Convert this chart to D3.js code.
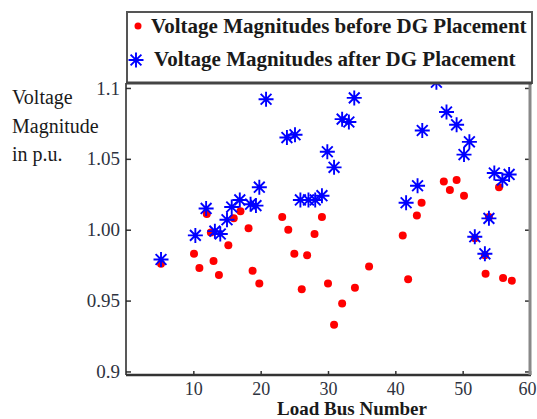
<!DOCTYPE html>
<html>
<head>
<meta charset="utf-8">
<script src="https://cdn.jsdelivr.net/npm/d3@7"></script>
<style>
  body { margin: 0; background: #fff; }
  text { font-family: "Liberation Serif", "Times New Roman", serif; }
</style>
</head>
<body>
<div id="graph"></div>
<script>
// Voltage magnitudes before DG placement (bus number, p.u.)
const busBefore = [5.2, 10.1, 10.9, 12.0, 12.6, 13.0, 13.8, 15.2, 16.0, 17.0,
    18.2, 18.8, 19.8, 23.2, 24.1, 25.0, 26.1, 26.9, 28.0, 29.1,
    30.0, 30.9, 32.1, 34.0, 36.1, 41.1, 41.9, 43.2, 43.9, 47.2,
    48.1, 49.1, 50.2, 51.8, 53.3, 53.4, 53.9, 55.4, 56.0, 57.3];
const voltBefore = [0.976, 0.983, 0.973, 1.011, 0.998, 0.978, 0.968, 0.989, 1.008, 1.013,
    1.001, 0.971, 0.962, 1.009, 1.000, 0.983, 0.958, 0.982, 0.997, 1.009,
    0.962, 0.933, 0.948, 0.959, 0.974, 0.996, 0.965, 1.010, 1.019, 1.034,
    1.028, 1.035, 1.024, 0.994, 0.982, 0.969, 1.009, 1.030, 0.966, 0.964];

// Voltage magnitudes after DG placement
const busAfter = [5.2, 10.3, 11.9, 13.2, 14.0, 15.0, 15.7, 16.9, 18.5, 19.3,
    19.8, 20.8, 23.9, 25.1, 25.9, 27.1, 28.1, 29.1, 29.9, 30.9,
    32.1, 33.1, 33.9, 41.6, 43.3, 44.0, 46.1, 47.6, 49.1, 50.2,
    51.0, 51.8, 53.3, 53.9, 54.7, 55.9, 56.9];
const voltAfter = [0.979, 0.996, 1.015, 0.999, 0.997, 1.007, 1.016, 1.021, 1.018, 1.017,
    1.030, 1.092, 1.065, 1.067, 1.021, 1.021, 1.021, 1.024, 1.055, 1.044,
    1.078, 1.076, 1.093, 1.019, 1.031, 1.070, 1.104, 1.083, 1.074, 1.053,
    1.062, 0.995, 0.983, 1.008, 1.040, 1.035, 1.039];

const xTicks = [10, 20, 30, 40, 50, 60];
const yTicks = [0.9, 0.95, 1.0, 1.05, 1.1];
const yTickLabels = ['0.9', '0.95', '1.00', '1.05', '1.1'];
const legendLabels = ['Voltage Magnitudes before DG Placement', 'Voltage Magnitudes after DG Placement'];
const yLabelLines = ['Voltage', 'Magnitude', 'in p.u.'];
const xLabel = 'Load Bus Number';

let width = 537,
    height = 419;
let plot = { left: 126, top: 83, right: 530, bottom: 375 };

let svg = d3.select('#graph').append('svg')
    .attr('width', width)
    .attr('height', height);

let x = d3.scaleLinear().domain([0, 60]).range([plot.left, plot.right]);
let y = d3.scaleLinear().domain([0.8975, 1.1035]).range([plot.bottom, plot.top]);

// 8-armed asterisk marker
function asterisk(r) {
    let p = d3.path();
    let d = r * 0.72;
    p.moveTo(-r, 0); p.lineTo(r, 0);
    p.moveTo(0, -r); p.lineTo(0, r);
    p.moveTo(-d, -d); p.lineTo(d, d);
    p.moveTo(-d, d); p.lineTo(d, -d);
    return p.toString();
}

// points, red first so the stars sit on top
let before = busBefore.map((b, i) => ({ bus: b, v: voltBefore[i] }));
let after = busAfter.map((b, i) => ({ bus: b, v: voltAfter[i] }));

svg.append('g').selectAll('circle')
    .data(before)
    .join('circle')
    .attr('cx', d => x(d.bus))
    .attr('cy', d => y(d.v))
    .attr('r', 4)
    .attr('fill', '#ff0000');

svg.append('g').selectAll('path')
    .data(after)
    .join('path')
    .attr('transform', d => `translate(${x(d.bus)},${y(d.v)})`)
    .attr('d', asterisk(7.5))
    .attr('stroke', '#0000ff')
    .attr('stroke-width', 1.9)
    .attr('fill', 'none');

// axes with inward ticks
let yAxis = svg.append('g')
    .attr('transform', `translate(${plot.left},0)`)
    .call(d3.axisLeft(y).tickValues(yTicks)
        .tickFormat((d, i) => yTickLabels[i])
        .tickSize(-5).tickPadding(6));
yAxis.select('.domain').remove();
yAxis.selectAll('line').attr('stroke', '#333').attr('stroke-width', 1.5);
yAxis.selectAll('text').attr('font-size', 19).attr('fill', '#2e3340')
    .style('font-family', '"Liberation Serif", serif');

let yAxisR = svg.append('g')
    .attr('transform', `translate(${plot.right},0)`)
    .call(d3.axisRight(y).tickValues(yTicks).tickFormat('').tickSize(-5));
yAxisR.select('.domain').remove();
yAxisR.selectAll('line').attr('stroke', '#333').attr('stroke-width', 1.5);

let xAxis = svg.append('g')
    .attr('transform', `translate(0,${plot.bottom})`)
    .call(d3.axisBottom(x).tickValues(xTicks).tickSize(-4).tickPadding(7));
xAxis.select('.domain').remove();
xAxis.selectAll('line').attr('stroke', '#333').attr('stroke-width', 1.5);
xAxis.selectAll('text').attr('font-size', 18).attr('fill', '#2e3340')
    .style('font-family', '"Liberation Serif", serif');
// keep the last label inside the window
xAxis.selectAll('text').filter(d => d === 60).attr('dx', -3);

// frame
svg.append('line').attr('x1', plot.left).attr('x2', plot.left)
    .attr('y1', plot.top).attr('y2', plot.bottom)
    .attr('stroke', '#222').attr('stroke-width', 1.5);
svg.append('line').attr('x1', plot.left).attr('x2', plot.right + 1)
    .attr('y1', plot.bottom).attr('y2', plot.bottom)
    .attr('stroke', '#333').attr('stroke-width', 2.5);
svg.append('line').attr('x1', plot.right).attr('x2', plot.right)
    .attr('y1', plot.top).attr('y2', plot.bottom)
    .attr('stroke', '#888').attr('stroke-width', 3);

// legend box (white, covers anything above the frame)
let legend = svg.append('g');
legend.append('rect')
    .attr('x', 127).attr('y', 12)
    .attr('width', 405).attr('height', plot.top - 12)
    .attr('fill', '#fff')
    .attr('stroke', '#555').attr('stroke-width', 2);
svg.append('line').attr('x1', plot.left).attr('x2', plot.right + 2)
    .attr('y1', plot.top).attr('y2', plot.top)
    .attr('stroke', '#444').attr('stroke-width', 3);

legend.append('circle')
    .attr('cx', 138).attr('cy', 26).attr('r', 3.5)
    .attr('fill', '#ff0000');
legend.append('path')
    .attr('transform', 'translate(136,60)')
    .attr('d', asterisk(7.5))
    .attr('stroke', '#0000ff').attr('stroke-width', 1.9).attr('fill', 'none');

legend.selectAll('text')
    .data(legendLabels)
    .join('text')
    .attr('x', (d, i) => i === 0 ? 151 : 154)
    .attr('y', (d, i) => i === 0 ? 33 : 66)
    .attr('font-size', 21)
    .attr('font-weight', 'bold')
    .attr('fill', '#1a1a1a')
    .text(d => d);

// axis titles
svg.append('g').selectAll('text')
    .data(yLabelLines)
    .join('text')
    .attr('x', 12)
    .attr('y', (d, i) => [104, 133, 161][i])
    .attr('font-size', 20)
    .attr('fill', '#1a1a1a')
    .text(d => d);

svg.append('text')
    .attr('x', 352)
    .attr('y', 415)
    .attr('text-anchor', 'middle')
    .attr('font-size', 19)
    .attr('font-weight', 'bold')
    .attr('fill', '#1a1a1a')
    .text(xLabel);
</script>
</body>
</html>
